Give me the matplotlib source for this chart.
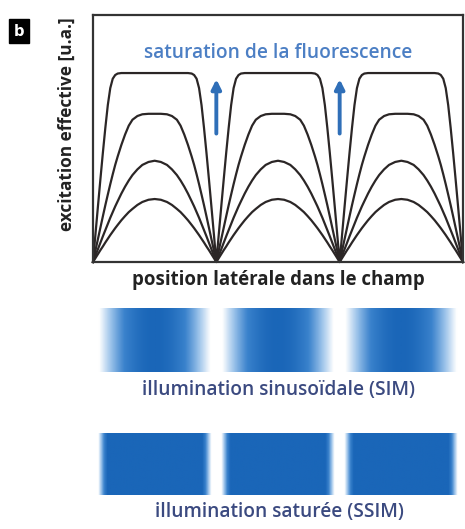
import matplotlib.pyplot as plt
import numpy as np
from matplotlib.colors import LinearSegmentedColormap, Normalize

# half of one period of the pattern (position as fraction of the period)
pos_half = [0, 0.02, 0.04, 0.06, 0.08, 0.10, 0.12, 0.14, 0.16, 0.18,
            0.20, 0.23, 0.26, 0.29, 0.32, 0.36, 0.40, 0.45, 0.50]

# effective excitation (axis 0..1)
curve_sat = [0, 0.113, 0.225, 0.335, 0.442, 0.543, 0.635, 0.704, 0.742, 0.757,
             0.763, 0.765, 0.765, 0.765, 0.765, 0.765, 0.765, 0.765, 0.765]
curve_high = [0, 0.047, 0.093, 0.139, 0.185, 0.230, 0.273, 0.315, 0.355, 0.393,
              0.427, 0.474, 0.516, 0.552, 0.576, 0.591, 0.598, 0.600, 0.600]
curve_mid = [0, 0.026, 0.052, 0.078, 0.104, 0.129, 0.154, 0.179, 0.202, 0.225,
             0.246, 0.277, 0.305, 0.330, 0.352, 0.375, 0.393, 0.405, 0.410]
curve_low = [0, 0.016, 0.032, 0.048, 0.063, 0.079, 0.094, 0.109, 0.123, 0.137,
             0.150, 0.169, 0.186, 0.202, 0.215, 0.231, 0.243, 0.252, 0.255]

n_periods = 3
arrow_x = [1, 2]
arrow_from = 0.52
arrow_to = 0.74

title_txt = 'saturation de la fluorescence'
xlabel_txt = 'position latérale dans le champ'
ylabel_txt = 'excitation effective [u.a.]'
sim_txt = 'illumination sinusoïdale (SIM)'
ssim_txt = 'illumination saturée (SSIM)'

FONT = ['Open Sans', 'DejaVu Sans']
plt.rcParams['font.family'] = FONT

line_col = '#2b2626'
blue_arrow = '#2f6fb8'
blue_title = '#4c7fc4'
text_col = '#3b4a80'


def full_period(half):
    # mirror half a period, then repeat over the periods
    xs, ys = [], []
    for p in range(n_periods):
        for f, v in zip(pos_half, half):
            xs.append(p + f)
            ys.append(v)
        for f, v in zip(pos_half[::-1][1:], half[::-1][1:]):
            xs.append(p + 1 - f)
            ys.append(v)
    return np.array(xs), np.array(ys)


fig = plt.figure(figsize=(4.65, 5.29), dpi=100)
W, H = 465.0, 529.0
x0, x1 = 93, 463

ax = fig.add_axes([x0 / W, 1 - 262 / H, (x1 - x0) / W, (262 - 15) / H])
for c in [curve_sat, curve_high, curve_mid, curve_low]:
    xs, ys = full_period(c)
    ax.plot(xs, ys, color=line_col, lw=1.6, solid_joinstyle='round', clip_on=False)

for xa in arrow_x:
    ax.annotate('', xy=(xa, arrow_to), xytext=(xa, arrow_from),
                arrowprops=dict(arrowstyle='-|>', color=blue_arrow, lw=2.8,
                                mutation_scale=14, shrinkA=0, shrinkB=0))

ax.text(1.5, 0.846, title_txt, ha='center', va='center', color=blue_title,
        fontsize=13.8, fontweight='semibold')

ax.set_xlim(0, n_periods)
ax.set_ylim(0, 1)
ax.set_xticks([])
ax.set_yticks([])
for s in ax.spines.values():
    s.set_linewidth(1.6)
    s.set_color('#333333')

ax.set_xlabel(xlabel_txt, fontsize=13.4, fontweight='bold', color='#222222')
ax.xaxis.label.set_va('center')
ax.xaxis.set_label_coords(0.5, -0.073)
ax.set_ylabel(ylabel_txt, fontsize=12.4, fontweight='bold', color='#222222')
ax.yaxis.label.set_va('center')
ax.yaxis.set_label_coords(-0.070, 0.559)

# panel letter
fig.text(19 / W, 1 - 31 / H, 'b', ha='center', va='center', color='white',
         fontsize=10.5, fontweight='bold', family='DejaVu Sans',
         bbox=dict(boxstyle='square,pad=0.32', fc='black', ec='black'))

# illumination stripes
cmap = LinearSegmentedColormap.from_list('blu', ['#ffffff', '#9cc3ea', '#3a82cc', '#1a66b8'])


def stripe(top, bottom, half, vmin, vmax, label, label_y, size):
    a = fig.add_axes([x0 / W, 1 - bottom / H, (x1 - x0) / W, (bottom - top) / H])
    xs, ys = full_period(half)
    grid = np.linspace(0, n_periods, 600)
    row = np.interp(grid, xs, ys / max(half))
    a.imshow(np.tile(row, (8, 1)), aspect='auto', cmap=cmap,
             norm=Normalize(vmin, vmax), extent=[0, n_periods, 0, 1],
             interpolation='bilinear')
    a.axis('off')
    fig.text(0.6, 1 - label_y / H, label, ha='center', va='center',
             color=text_col, fontsize=size, fontweight='semibold')


stripe(308, 372, curve_low, 0.15, 1.0, sim_txt, 390, 13.8)
stripe(433, 495, curve_sat, 0.3, 0.8, ssim_txt, 512, 13.8)

fig.savefig('out.png', dpi=100)
